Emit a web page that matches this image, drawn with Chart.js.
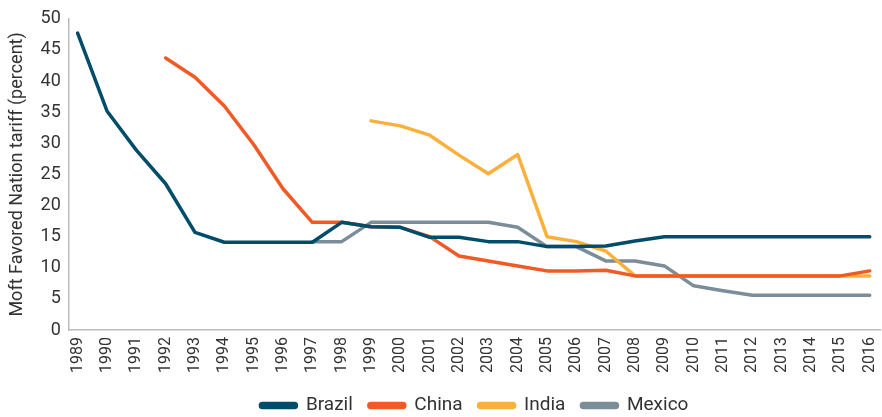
<!DOCTYPE html>
<html>
<head>
<meta charset="utf-8">
<script src="https://cdn.jsdelivr.net/npm/chart.js@4"></script>
<style>
  html, body { margin: 0; padding: 0; background: #fff; }
  #wrap { width: 882px; height: 417px; }
</style>
</head>
<body>
<div id="wrap"><canvas id="tariffChart"></canvas></div>
<script>
const years = [1989, 1990, 1991, 1992, 1993, 1994, 1995, 1996, 1997, 1998, 1999, 2000, 2001, 2002,
               2003, 2004, 2005, 2006, 2007, 2008, 2009, 2010, 2011, 2012, 2013, 2014, 2015, 2016];

const brazil = [47.7, 35.2, 28.9, 23.5, 15.7, 14.1, 14.1, 14.1, 14.1, 17.3, 16.6, 16.5, 14.9, 14.9,
                14.2, 14.2, 13.4, 13.4, 13.5, 14.3, 15.0, 15.0, 15.0, 15.0, 15.0, 15.0, 15.0, 15.0];
const china = [null, null, null, 43.7, 40.6, 36.0, 29.8, 22.7, 17.3, 17.3, 16.6, 16.5, 15.0, 11.9,
               11.1, 10.3, 9.5, 9.5, 9.6, 8.7, 8.7, 8.7, 8.7, 8.7, 8.7, 8.7, 8.7, 9.5];
const india = [null, null, null, null, null, null, null, null, null, null, 33.6, 32.8, 31.3, 28.1,
               25.1, 28.2, 15.0, 14.2, 12.7, 8.7, 8.7, 8.7, 8.7, 8.7, 8.7, 8.7, 8.7, 8.7];
const mexico = [null, null, null, null, null, null, null, null, 14.2, 14.2, 17.3, 17.3, 17.3, 17.3,
                17.3, 16.5, 13.4, 13.4, 11.1, 11.1, 10.3, 7.1, 6.3, 5.6, 5.6, 5.6, 5.6, 5.6];

const fontFamily = "'Roboto', sans-serif";

function series(label, values, color) {
    return {
        label: label,
        data: years.map((yr, i) => ({ x: yr, y: values[i] })),
        borderColor: color,
        backgroundColor: color,
        borderWidth: 3.5,
        pointRadius: 0,
        tension: 0,
        borderCapStyle: 'round',
        borderJoinStyle: 'round',
        spanGaps: false
    };
}

const ctx = document.getElementById('tariffChart').getContext('2d');
new Chart(ctx, {
    type: 'line',
    data: {
        datasets: [
            series('Brazil', brazil, '#004d6b'),
            series('China', china, '#f15a24'),
            series('India', india, '#fbb03b'),
            series('Mexico', mexico, '#7a8d99')
        ]
    },
    options: {
        responsive: true,
        maintainAspectRatio: false,
        animation: false,
        layout: { padding: { top: 4, right: 2, left: 7, bottom: -8 } },
        plugins: {
            legend: {
                position: 'bottom',
                fullSize: false,   // centre under the plot area, not the canvas
                labels: {
                    boxWidth: 36,
                    boxHeight: 4,
                    useBorderRadius: true,
                    borderRadius: 2,
                    padding: 16,
                    color: '#333',
                    font: { family: fontFamily, size: 19 }
                }
            },
            tooltip: { enabled: false }
        },
        scales: {
            x: {
                type: 'linear',
                min: 1988.7,
                max: 2016.35,
                grid: { display: false, drawTicks: false },
                border: { color: '#bbb', width: 1.5 },
                // let the last rotated year label sit in the right margin
                afterFit: scale => { scale.paddingRight = 0; },
                ticks: {
                    stepSize: 1,
                    includeBounds: false,
                    color: '#333',
                    minRotation: 90,
                    maxRotation: 90,
                    autoSkip: false,
                    padding: 7,
                    font: { family: fontFamily, size: 16 },
                    callback: v => String(v)
                }
            },
            y: {
                min: 0,
                max: 50,
                grid: { display: false, drawTicks: false },
                border: { color: '#bbb', width: 1.5 },
                ticks: {
                    stepSize: 5,
                    color: '#333',
                    padding: 8,
                    font: { family: fontFamily, size: 18 }
                },
                title: {
                    display: true,
                    text: 'Moft Favored Nation tariff (percent)',
                    color: '#333',
                    padding: { top: 0, bottom: 4 },
                    font: { family: fontFamily, size: 18 }
                }
            }
        }
    }
});
</script>
</body>
</html>
